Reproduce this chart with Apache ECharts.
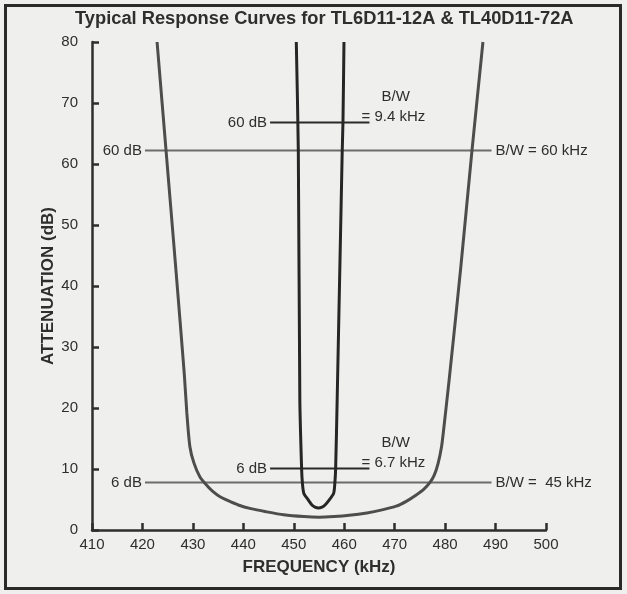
<!DOCTYPE html>
<html>
<head>
<meta charset="utf-8">
<script src="https://cdn.jsdelivr.net/npm/echarts@6/dist/echarts.min.js"></script>
<style>
  html, body { margin: 0; padding: 0; background: #f3f3f1; }
  #chart { width: 627px; height: 594px; }
</style>
</head>
<body>
<div id="chart"></div>
<script>
// Frequency axis ticks (kHz) and attenuation ticks (dB)
const freqTicks = [410, 420, 430, 440, 450, 460, 470, 480, 490, 500];
const attTicks = [0, 10, 20, 30, 40, 50, 60, 70, 80];

// TL40D11-72A (wide filter) response: frequency kHz, attenuation dB
const wideFreq = [422.9, 424.7, 426.6, 428.3, 428.8, 429.4, 430.2, 431.4, 433.0, 434.0, 435.3, 437.0, 439.0, 441.5, 444.5, 448.0, 452.0, 455.0,
                  458.0, 461.0, 464.5, 467.5, 470.3, 472.3, 474.2, 475.8, 477.0, 477.8, 478.6, 479.3, 479.7, 480.8, 483.1, 485.3, 487.5];
const wideAtt  = [80, 62, 43, 25.5, 19.2, 13.7, 11.0, 8.7, 7.1, 6.3, 5.5, 4.8, 4.1, 3.5, 3.0, 2.5, 2.2, 2.1,
                  2.2, 2.4, 2.8, 3.3, 3.9, 4.7, 5.7, 6.7, 7.8, 8.9, 10.9, 13.7, 16.4, 24.6, 43, 62, 80];

// TL6D11-12A (narrow filter) response
const narrowFreq = [450.5, 450.9, 451.2, 451.55, 451.7, 452.0, 452.9, 453.6, 454.2, 454.9, 455.6, 456.2, 457.0, 457.9, 458.15, 458.3, 458.6, 459.6, 459.75, 459.95];
const narrowAtt  = [80, 62, 21.3, 10.1, 7.8, 6.0, 4.9, 4.1, 3.75, 3.6, 3.75, 4.1, 4.9, 6.0, 7.8, 10.1, 21.3, 62, 66.8, 80];

// Bandwidth marker lines: level on the axis, span, and their texts
const wideLevels = [62.2, 7.8];
const wideSpan = [420.5, 489.2];
const wideLeftText = ['60 dB', '6 dB'];
const wideRightText = ['B/W = 60 kHz', 'B/W =  45 kHz'];

const narrowLevels = [66.8, 10.1];
const narrowSpan = [445.3, 465.0];
const narrowLeftText = ['60 dB', '6 dB'];
const narrowRightText = ['9.4 kHz', '6.7 kHz'];

const FONT = 'Liberation Sans';
const INK = '#2e2e2e';

function pairs(xs, ys) { return xs.map((x, i) => [x, ys[i]]); }

function markerSeries(level, span, leftText, rightLabel, color, width) {
  return {
    type: 'line',
    silent: true,
    symbol: 'circle',
    symbolSize: 0.1,
    showSymbol: true,
    lineStyle: { color: color, width: width },
    itemStyle: { color: color },
    z: 1,
    data: [
      { value: [span[0], level],
        label: { show: true, position: 'left', distance: 3, formatter: leftText,
                 color: INK, fontFamily: FONT, fontSize: 15 } },
      { value: [span[1], level], label: rightLabel }
    ]
  };
}

const series = [];
wideLevels.forEach((lv, i) => {
  series.push(markerSeries(lv, wideSpan, wideLeftText[i], {
    show: true, position: 'right', distance: 4, formatter: wideRightText[i],
    color: INK, fontFamily: FONT, fontSize: 15
  }, '#6c6c6c', 2));
});
narrowLevels.forEach((lv, i) => {
  series.push(markerSeries(lv, narrowSpan, narrowLeftText[i], {
    show: true, position: 'right', distance: 0,
    formatter: '{a|B/W}\n{b|= ' + narrowRightText[i] + '}',
    align: 'left', verticalAlign: 'bottom', offset: [-8, 4],
    color: INK, fontFamily: FONT, fontSize: 15,
    rich: {
      a: { fontFamily: FONT, fontSize: 15, color: INK, lineHeight: 20, padding: [0, 0, 0, 20] },
      b: { fontFamily: FONT, fontSize: 15, color: INK, lineHeight: 20 }
    }
  }, '#2a2a2a', 2));
});

series.push({
  name: 'TL40D11-72A', type: 'line', data: pairs(wideFreq, wideAtt),
  smooth: 0.25, showSymbol: false, silent: true, z: 3,
  lineStyle: { color: '#4d4d4d', width: 3 }
});
series.push({
  name: 'TL6D11-12A', type: 'line', data: pairs(narrowFreq, narrowAtt),
  smooth: 0.25, showSymbol: false, silent: true, z: 3,
  lineStyle: { color: '#262626', width: 3 }
});

const chart = echarts.init(document.getElementById('chart'), null, { renderer: 'canvas' });
chart.setOption({
  backgroundColor: '#efefed',
  animation: false,
  title: {
    text: 'Typical Response Curves for TL6D11-12A & TL40D11-72A',
    left: 70, top: 5,
    textStyle: { fontFamily: FONT, fontSize: 18.3, fontWeight: 'bold', color: INK }
  },
  grid: { left: 92, right: 81, top: 42, bottom: 64, containLabel: false },
  xAxis: {
    type: 'value', min: freqTicks[0], max: freqTicks[freqTicks.length - 1], interval: 10,
    name: 'FREQUENCY (kHz)', nameLocation: 'middle', nameGap: 29,
    nameTextStyle: { fontFamily: FONT, fontSize: 17, fontWeight: 'bold', color: INK },
    axisLine: { onZero: false, lineStyle: { color: INK, width: 2.5 } },
    axisTick: { inside: true, length: 7, lineStyle: { color: INK, width: 2.5 } },
    axisLabel: { fontFamily: FONT, fontSize: 15, color: INK, margin: 7 },
    splitLine: { show: false }
  },
  yAxis: {
    type: 'value', min: attTicks[0], max: attTicks[attTicks.length - 1], interval: 10,
    name: 'ATTENUATION (dB)', nameLocation: 'middle', nameGap: 35, nameMoveOverlap: false,
    nameTextStyle: { fontFamily: FONT, fontSize: 17, fontWeight: 'bold', color: INK },
    axisLine: { show: true, lineStyle: { color: INK, width: 2.5 } },
    axisTick: { show: true, inside: true, length: 7, lineStyle: { color: INK, width: 2.5 } },
    axisLabel: { fontFamily: FONT, fontSize: 15, color: INK, margin: 14 },
    splitLine: { show: false }
  },
  graphic: [{
    type: 'rect', silent: true, z: 100,
    shape: { x: 5.5, y: 5.5, width: 615, height: 583 },
    style: { fill: 'none', stroke: '#2a2a2a', lineWidth: 3 }
  }],
  series: series
});
</script>
</body>
</html>
